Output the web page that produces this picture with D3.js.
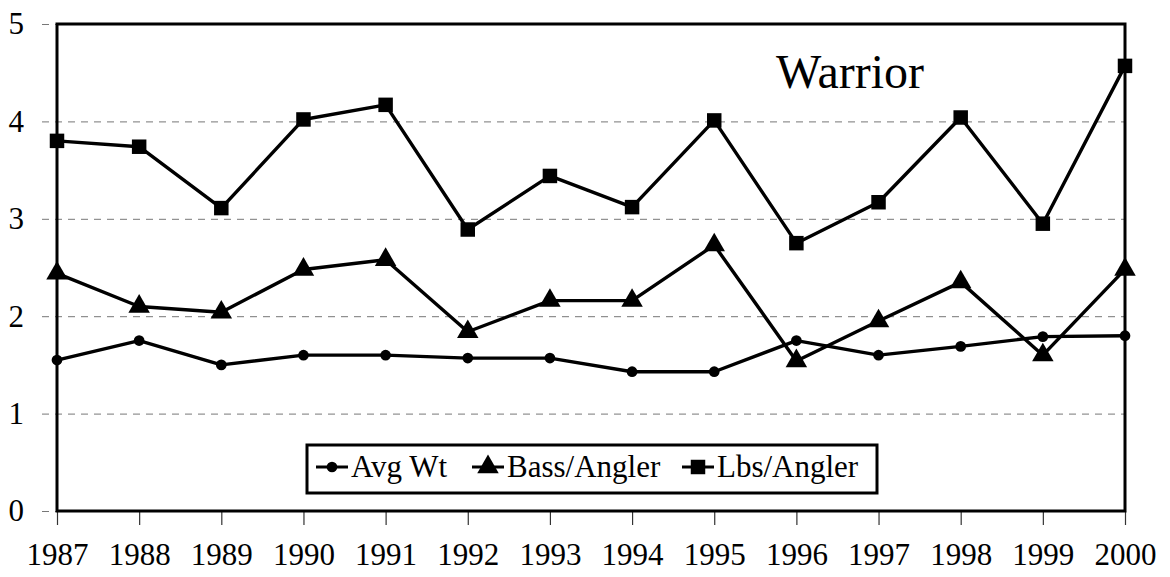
<!DOCTYPE html>
<html>
<head>
<meta charset="utf-8">
<script src="https://cdn.jsdelivr.net/npm/d3@7"></script>
<style>
  body { margin: 0; background: #fff; }
  svg { display: block; font-family: "Liberation Serif", "Times New Roman", serif; }
</style>
</head>
<body>
<div id="chart"></div>
<script>
const years = [1987, 1988, 1989, 1990, 1991, 1992, 1993, 1994, 1995, 1996, 1997, 1998, 1999, 2000];
const avgWt = [1.55, 1.75, 1.50, 1.60, 1.60, 1.57, 1.57, 1.43, 1.43, 1.75, 1.60, 1.69, 1.79, 1.80];
const bassPerAngler = [2.44, 2.10, 2.04, 2.48, 2.58, 1.84, 2.16, 2.16, 2.73, 1.54, 1.95, 2.35, 1.60, 2.48];
const lbsPerAngler = [3.80, 3.74, 3.11, 4.02, 4.17, 2.89, 3.44, 3.12, 4.01, 2.75, 3.17, 4.04, 2.95, 4.57];
const yTicks = [0, 1, 2, 3, 4, 5];
const seriesNames = ['Avg Wt', 'Bass/Angler', 'Lbs/Angler'];
const title = 'Warrior';

const width = 1170, height = 577;
const margin = {top: 24, right: 45, bottom: 66, left: 57};
const serif = '"Liberation Serif", "Times New Roman", serif';

const svg = d3.select('#chart').append('svg')
    .attr('width', width)
    .attr('height', height);

const x = d3.scaleLinear()
    .domain([years[0], years[years.length - 1]])
    .range([margin.left, width - margin.right]);
const y = d3.scaleLinear()
    .domain([0, 5])
    .range([height - margin.bottom, margin.top]);

// dashed gridlines + y labels
const yAxis = svg.append('g')
    .attr('transform', `translate(${margin.left},0)`)
    .call(d3.axisLeft(y).tickValues(yTicks).tickFormat(d3.format('d'))
        .tickSize(-(width - margin.left - margin.right)).tickPadding(33));
yAxis.attr('font-family', serif);
yAxis.select('.domain').remove();
yAxis.selectAll('.tick line')
    .attr('x1', -15)
    .attr('stroke', '#777')
    .attr('stroke-width', 1)
    .attr('stroke-dasharray', '7,6');
yAxis.selectAll('.tick text')
    .attr('font-size', 31)
    .attr('fill', '#000');

// x ticks + labels
const xAxis = svg.append('g')
    .attr('transform', `translate(0,${height - margin.bottom})`)
    .call(d3.axisBottom(x).tickValues(years).tickFormat(d3.format('d')).tickSize(14).tickPadding(18));
xAxis.attr('font-family', serif);
xAxis.select('.domain').remove();
xAxis.selectAll('.tick line')
    .attr('stroke', '#333')
    .attr('stroke-width', 1.2);
xAxis.selectAll('.tick text')
    .attr('font-size', 31)
    .attr('fill', '#000');

// plot frame
svg.append('rect')
    .attr('x', margin.left)
    .attr('y', margin.top)
    .attr('width', width - margin.left - margin.right)
    .attr('height', height - margin.top - margin.bottom)
    .attr('fill', 'none')
    .attr('stroke', '#000')
    .attr('stroke-width', 3);

const line = d3.line()
    .x((d, i) => x(years[i]))
    .y(d => y(d));

const series = [
    {name: seriesNames[0], values: avgWt, symbol: d3.symbolCircle, size: 90},
    {name: seriesNames[1], values: bassPerAngler, symbol: d3.symbolTriangle, size: 200},
    {name: seriesNames[2], values: lbsPerAngler, symbol: d3.symbolSquare, size: 210}
];

series.forEach(s => {
    svg.append('path')
        .datum(s.values)
        .attr('d', line)
        .attr('fill', 'none')
        .attr('stroke', '#000')
        .attr('stroke-width', 3.4)
        .attr('stroke-linejoin', 'round');
    svg.selectAll(null)
        .data(s.values)
        .enter().append('path')
        .attr('d', d3.symbol().type(s.symbol).size(s.size))
        .attr('transform', (d, i) => `translate(${x(years[i])},${y(d)})`)
        .attr('fill', '#000');
});

// title
svg.append('text')
    .attr('x', 776)
    .attr('y', 88)
    .attr('font-size', 48)
    .attr('fill', '#000')
    .text(title);

// legend
const legend = svg.append('g');
legend.append('rect')
    .attr('x', 307)
    .attr('y', 445)
    .attr('width', 570)
    .attr('height', 48)
    .attr('fill', '#fff')
    .attr('stroke', '#000')
    .attr('stroke-width', 3);

const legendX = [316, 472, 682];
series.forEach((s, i) => {
    const g = legend.append('g').attr('transform', `translate(${legendX[i]},467)`);
    g.append('line')
        .attr('x1', 0).attr('x2', 32)
        .attr('stroke', '#000')
        .attr('stroke-width', 3);
    g.append('path')
        .attr('d', d3.symbol().type(s.symbol).size(s.size))
        .attr('transform', 'translate(16,0)')
        .attr('fill', '#000');
    g.append('text')
        .attr('x', 35)
        .attr('y', 10)
        .attr('font-size', 31)
        .attr('fill', '#000')
        .text(s.name);
});
</script>
</body>
</html>
